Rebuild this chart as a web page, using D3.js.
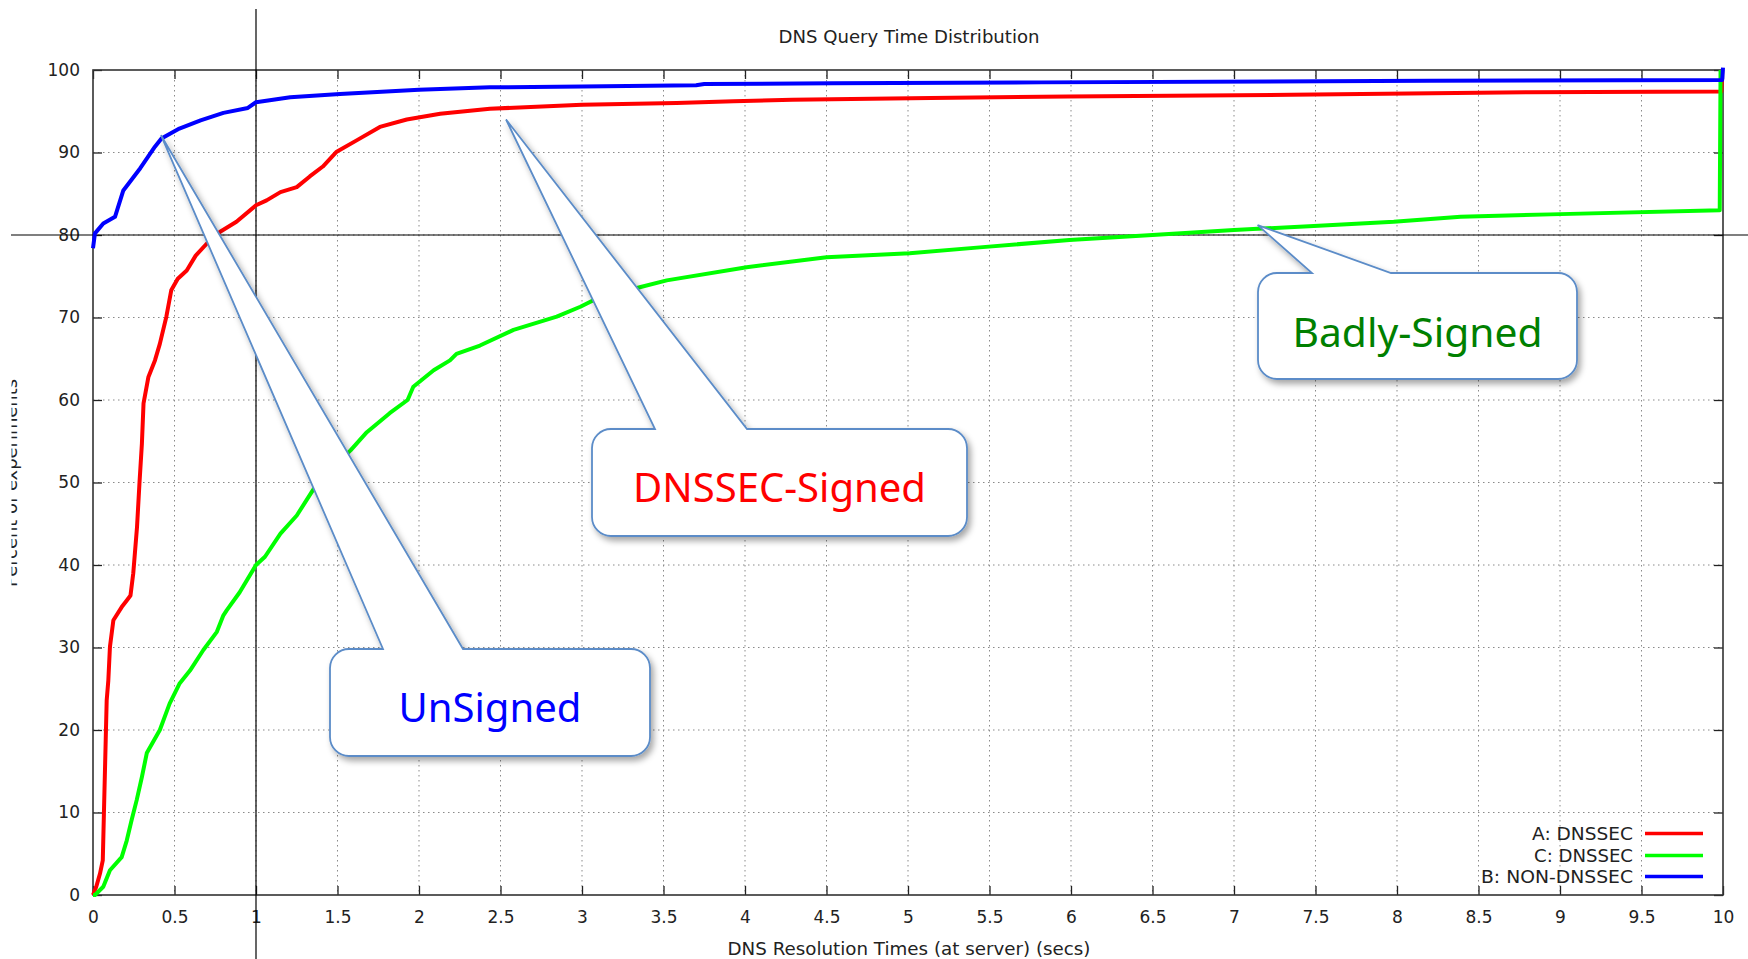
<!DOCTYPE html>
<html>
<head>
<meta charset="utf-8">
<script src="https://cdn.jsdelivr.net/npm/d3@7"></script>
<style>
  html, body { margin: 0; padding: 0; background: #fff; }
  svg { display: block; }
</style>
</head>
<body>
<svg id="chart" width="1748" height="959"></svg>
<script>
// ---------------- DATA ----------------
const chartTitle = "DNS Query Time Distribution";
const xAxisTitle = "DNS Resolution Times (at server) (secs)";
const yAxisTitle = "Percent of experiments";

const xTicks = [0,0.5,1,1.5,2,2.5,3,3.5,4,4.5,5,5.5,6,6.5,7,7.5,8,8.5,9,9.5,10];
const yTicks = [0,10,20,30,40,50,60,70,80,90,100];

const seriesNames = ["A: DNSSEC", "C: DNSSEC", "B: NON-DNSSEC"];
const seriesColors = ["#ff0000", "#00ff00", "#0000ff"];

// A: DNSSEC (red)  [seconds, percent]
const seriesA = [[0,0],[0.02,1.0],[0.043,2.6],[0.06,4.2],[0.067,9.9],[0.078,18.8],[0.084,23.6],[0.094,26.0],
  [0.104,30.1],[0.125,33.3],[0.176,34.9],[0.207,35.7],[0.23,36.3],[0.247,39.0],[0.27,44.6],[0.285,49.9],
  [0.30,54.7],[0.31,59.6],[0.34,62.8],[0.38,64.8],[0.41,66.8],[0.45,70.1],[0.48,73.3],[0.52,74.7],
  [0.575,75.7],[0.63,77.5],[0.70,79.0],[0.78,80.4],[0.88,81.6],[1.0,83.6],[1.065,84.2],[1.15,85.2],
  [1.25,85.8],[1.33,87.1],[1.41,88.3],[1.495,90.1],[1.62,91.5],[1.76,93.1],[1.925,94.0],[2.13,94.7],
  [2.435,95.3],[3.0,95.8],[3.58,96.0],[3.93,96.2],[4.29,96.4],[5.14,96.6],[5.98,96.8],[7.35,97.0],
  [8.81,97.3],[9.99,97.4],[9.995,100]];

// C: DNSSEC (green)
const seriesC = [[0,0],[0.012,0],[0.063,1.0],[0.104,3.0],[0.176,4.6],[0.207,6.6],[0.237,9.1],[0.268,11.5],
  [0.30,14.3],[0.33,17.2],[0.41,20.0],[0.47,23.2],[0.53,25.6],[0.595,27.2],[0.677,29.7],[0.76,31.9],
  [0.80,33.9],[0.82,34.5],[0.90,36.7],[1.0,40.0],[1.055,41.0],[1.15,43.8],[1.25,46.0],[1.35,49.1],
  [1.41,50.7],[1.58,53.9],[1.68,56.1],[1.82,58.4],[1.93,60.0],[1.965,61.6],[2.09,63.6],[2.19,64.8],
  [2.23,65.6],[2.374,66.6],[2.58,68.5],[2.845,70.1],[2.99,71.3],[3.07,72.1],[3.36,73.7],[3.52,74.5],
  [4.01,76.1],[4.50,77.3],[5.01,77.8],[5.44,78.5],[5.99,79.4],[6.50,80.0],[7.0,80.6],[7.49,81.1],
  [7.98,81.6],[8.39,82.2],[8.94,82.5],[9.98,83.0],[9.985,100]];

// B: NON-DNSSEC (blue)
const seriesB = [[0,78.4],[0.012,80.2],[0.063,81.4],[0.135,82.2],[0.186,85.4],[0.29,88.1],[0.38,90.7],
  [0.42,91.7],[0.53,92.9],[0.66,93.9],[0.80,94.8],[0.95,95.4],[1.0,96.1],[1.21,96.7],[1.515,97.1],
  [2.0,97.6],[2.435,97.9],[3.0,98.0],[3.7,98.15],[3.75,98.3],[4.54,98.4],[5.82,98.5],[8.2,98.7],
  [9.995,98.8],[10,100.3]];

const allSeries = [seriesA, seriesC, seriesB];

// Crosshair reference values
const crossX = 1;
const crossY = 80;

// Callout annotations: label, colour, pointer tip in data coords
const calloutLabels = ["UnSigned", "DNSSEC-Signed", "Badly-Signed"];
const calloutColors = ["#0000ff", "#ff0000", "#008000"];
const calloutTips = [[0.417, 92.1], [2.534, 94.0], [7.145, 81.2]];

// ---------------- LAYOUT ----------------
const W = 1748, H = 959;
const L = 93, R = 1723, T = 70, B = 895;
// callout box geometry (pixels): [x0, y0, x1, y1, pointerBaseLeft, pointerBaseRight, textBaseline, textWidth]
const calloutBoxes = [
  [330, 649, 650, 756, 383, 463, 722, 183],
  [592, 429, 967, 536, 655, 747, 502, 293],
  [1258, 273, 1577, 379, 1312, 1391, 347, 250]
];
const legendTextWidths = [101, 99, 152];

const svg = d3.select("#chart");
const x = d3.scaleLinear().domain([0, 10]).range([L, R]);
const y = d3.scaleLinear().domain([0, 100]).range([B, T]);

const defs = svg.append("defs");
const f = defs.append("filter").attr("id", "shadow").attr("x", "-10%").attr("y", "-10%").attr("width", "130%").attr("height", "140%");
f.append("feDropShadow").attr("dx", 3).attr("dy", 4).attr("stdDeviation", 3)
  .attr("flood-color", "#000").attr("flood-opacity", 0.35);
defs.append("clipPath").attr("id", "ylabclip").append("rect")
  .attr("x", 11.5).attr("y", 0).attr("width", 200).attr("height", H);

const textColor = "#222";
const fontAxis = "'DejaVu Sans', sans-serif";

// Grid
const grid = svg.append("g").attr("stroke", "#8a8a8a").attr("stroke-width", 1).attr("stroke-dasharray", "1.5,3.5");
grid.selectAll("line.gx").data(xTicks.filter(d => d > 0 && d < 10)).join("line")
  .attr("x1", d => x(d)).attr("x2", d => x(d)).attr("y1", T).attr("y2", B);
grid.selectAll("line.gy").data(yTicks.filter(d => d > 0 && d < 100)).join("line")
  .attr("x1", L).attr("x2", R).attr("y1", d => y(d)).attr("y2", d => y(d));

// Axes (D3 axes, ticks inward)
const axisBottom = d3.axisBottom(x).tickValues(xTicks).tickSize(-9).tickPadding(16).tickFormat(d => String(d));
const axisTop = d3.axisTop(x).tickValues(xTicks).tickSize(-9).tickFormat("");
const axisLeft = d3.axisLeft(y).tickValues(yTicks).tickSize(-9).tickPadding(13).tickFormat(d => String(d));
const axisRight = d3.axisRight(y).tickValues(yTicks).tickSize(-9).tickFormat("");

function styleAxis(g) {
  g.select(".domain").remove();
  g.selectAll(".tick line").attr("stroke", "#222").attr("stroke-width", 1.3);
  g.selectAll(".tick text").attr("fill", textColor).attr("font-family", fontAxis).attr("font-size", 17);
}
svg.append("g").attr("transform", `translate(0,${B})`).call(axisBottom).call(styleAxis);
svg.append("g").attr("transform", `translate(0,${T})`).call(axisTop).call(styleAxis);
svg.append("g").attr("transform", `translate(${L},0)`).call(axisLeft).call(styleAxis);
svg.append("g").attr("transform", `translate(${R},0)`).call(axisRight).call(styleAxis);

// Frame
svg.append("rect").attr("x", L).attr("y", T).attr("width", R - L).attr("height", B - T)
  .attr("fill", "none").attr("stroke", "#333").attr("stroke-width", 1.6);

// Crosshair lines
svg.append("line").attr("x1", x(crossX)).attr("x2", x(crossX)).attr("y1", 9).attr("y2", H)
  .attr("stroke", "#000").attr("stroke-width", 1.2);
svg.append("line").attr("x1", 11).attr("x2", W).attr("y1", y(crossY)).attr("y2", y(crossY))
  .attr("stroke", "#000").attr("stroke-width", 1.2);

// Series lines
const line = d3.line().x(d => x(d[0])).y(d => y(d[1])).curve(d3.curveLinear);
svg.append("g").selectAll("path").data(allSeries).join("path")
  .attr("d", line).attr("fill", "none")
  .attr("stroke", (d, i) => seriesColors[i]).attr("stroke-width", 4)
  .attr("stroke-linejoin", "round").attr("stroke-linecap", "butt");

// Title and axis labels
svg.append("text").attr("x", 909).attr("y", 43).attr("text-anchor", "middle")
  .attr("font-family", fontAxis).attr("font-size", 17).attr("fill", textColor)
  .attr("textLength", 261).attr("lengthAdjust", "spacingAndGlyphs").text(chartTitle);
svg.append("text").attr("x", 909).attr("y", 955).attr("text-anchor", "middle")
  .attr("font-family", fontAxis).attr("font-size", 17).attr("fill", textColor)
  .attr("textLength", 363).attr("lengthAdjust", "spacingAndGlyphs").text(xAxisTitle);
svg.append("g").attr("clip-path", "url(#ylabclip)")
  .append("text").attr("transform", "translate(17,483) rotate(-90)").attr("text-anchor", "middle")
  .attr("font-family", fontAxis).attr("font-size", 17).attr("fill", textColor)
  .attr("textLength", 208).attr("lengthAdjust", "spacingAndGlyphs").text(yAxisTitle);

// Legend
const legendRows = [840, 862, 883];
const lg = svg.append("g");
seriesNames.forEach((name, i) => {
  lg.append("text").attr("x", 1633).attr("y", legendRows[i]).attr("text-anchor", "end")
    .attr("font-family", fontAxis).attr("font-size", 17).attr("fill", textColor)
    .attr("textLength", legendTextWidths[i]).attr("lengthAdjust", "spacingAndGlyphs").text(name);
  lg.append("line").attr("x1", 1645).attr("x2", 1703)
    .attr("y1", legendRows[i] - 6.5).attr("y2", legendRows[i] - 6.5)
    .attr("stroke", seriesColors[i]).attr("stroke-width", 3.5);
});

// Callouts
function calloutPath(b, tip) {
  const [x0, y0, x1, y1, p0, p1] = b;
  const r = 19;
  const [tx, ty] = tip;
  return `M${x0 + r},${y0} L${p0},${y0} L${tx},${ty} L${p1},${y0} L${x1 - r},${y0}` +
    ` A${r},${r} 0 0 1 ${x1},${y0 + r} L${x1},${y1 - r} A${r},${r} 0 0 1 ${x1 - r},${y1}` +
    ` L${x0 + r},${y1} A${r},${r} 0 0 1 ${x0},${y1 - r} L${x0},${y0 + r} A${r},${r} 0 0 1 ${x0 + r},${y0} Z`;
}
const cg = svg.append("g");
calloutLabels.forEach((label, i) => {
  const b = calloutBoxes[i];
  const tip = [x(calloutTips[i][0]), y(calloutTips[i][1])];
  cg.append("path").attr("d", calloutPath(b, tip))
    .attr("fill", "#fff").attr("stroke", "#5b8cc8").attr("stroke-width", 1.8)
    .attr("stroke-linejoin", "miter").attr("filter", "url(#shadow)");
  cg.append("text").attr("x", (b[0] + b[2]) / 2).attr("y", b[6]).attr("text-anchor", "middle")
    .attr("font-family", "'Noto Sans', 'Open Sans', sans-serif").attr("font-size", 40)
    .attr("textLength", b[7]).attr("lengthAdjust", "spacingAndGlyphs")
    .attr("fill", calloutColors[i]).text(label);
});
</script>
</body>
</html>
